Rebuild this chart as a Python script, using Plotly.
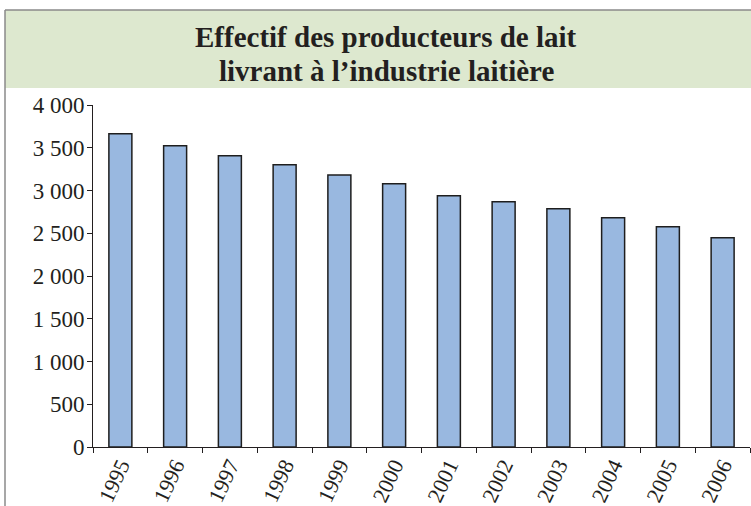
import plotly.graph_objects as go

# Effectif des producteurs de lait livrant à l'industrie laitière
years = ["1995", "1996", "1997", "1998", "1999", "2000",
         "2001", "2002", "2003", "2004", "2005", "2006"]
producteurs = [3664, 3524, 3407, 3302, 3181, 3080,
               2939, 2869, 2787, 2682, 2577, 2448]
titre = ["Effectif des producteurs de lait", "livrant à l’industrie laitière"]

fig = go.Figure()
fig.add_trace(go.Bar(
    x=years, y=producteurs, width=0.42,
    marker=dict(color="#99b8e0", line=dict(color="#1e1e1e", width=1.5)),
))

# bandeau du titre + cadre
fig.add_shape(type="rect", xref="paper", yref="paper",
              x0=-88 / 657, x1=1.01, y0=1 + 17 / 342, y1=1 + 95 / 342,
              fillcolor="#dde8cf", line=dict(width=0), layer="below")
fig.add_shape(type="line", xref="paper", yref="paper",
              x0=-88 / 657, x1=1.01, y0=1 + 95 / 342, y1=1 + 95 / 342,
              line=dict(color="#8a8a8a", width=1.5))
fig.add_shape(type="line", xref="paper", yref="paper",
              x0=-88 / 657, x1=-88 / 657, y0=-0.2, y1=1 + 95 / 342,
              line=dict(color="#8a8a8a", width=1.5))

for ligne, ypix in zip(titre, [37, 71]):
    fig.add_annotation(
        text="<b>" + ligne + "</b>",
        xref="paper", yref="paper", x=(386 - 93) / 657, y=1 + (105 - ypix) / 342,
        showarrow=False, xanchor="center", yanchor="middle",
        font=dict(family="Liberation Serif", size=29, color="#231f20"),
    )

fig.update_layout(
    width=751, height=506,
    margin=dict(l=93, r=1, t=105, b=59),
    paper_bgcolor="white", plot_bgcolor="white",
    showlegend=False, bargap=0.58,
    separators=", ",
    font=dict(family="Liberation Serif", size=23, color="#231f20"),
)
fig.update_yaxes(
    range=[0, 4000], dtick=500, tickformat=",", automargin=False,
    showgrid=False, zeroline=False,
    showline=True, linecolor="#231f20", linewidth=1,
    ticks="outside", ticklen=5, tickcolor="#231f20", ticklabelstandoff=-2,
)
fig.update_xaxes(
    showgrid=False, showline=True, linecolor="#231f20", linewidth=1,
    ticks="outside", ticklen=5, tickcolor="#231f20", automargin=False,
    tickson="boundaries", tickangle=-65, ticklabelstandoff=-4,
    tickfont=dict(size=22),
)

fig.write_html("out.html", config={"displayModeBar": False},
               post_script="document.body.style.margin='0';")
